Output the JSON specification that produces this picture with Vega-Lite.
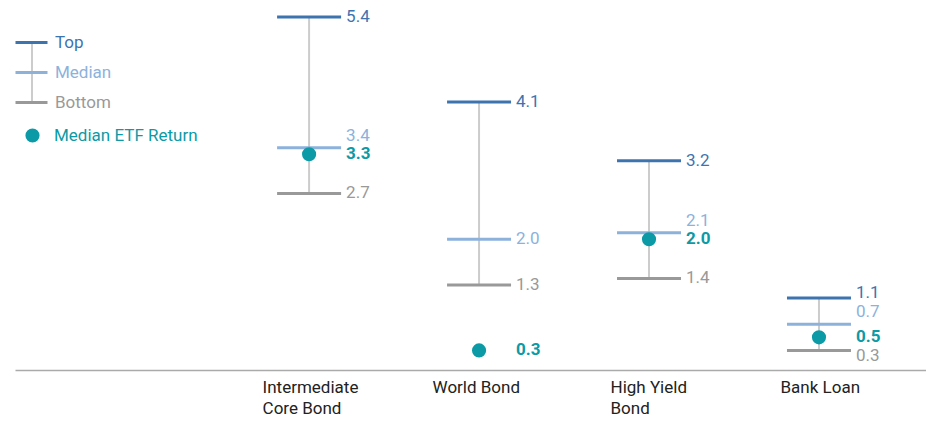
{
  "$schema": "https://vega.github.io/schema/vega-lite/v6.json",
  "width": 911,
  "height": 370,
  "autosize": {"type": "none"},
  "padding": {"left": 15, "top": 0, "right": 0, "bottom": 51},
  "background": "white",
  "config": {"view": {"stroke": null}, "font": "Roboto", "text": {"font": "Roboto"}},
  "data": {
    "values": [
      {"category": "Intermediate Core Bond", "Top": 5.4, "Median": 3.4, "Bottom": 2.7, "ETF": 3.3},
      {"category": "World Bond", "Top": 4.1, "Median": 2.0, "Bottom": 1.3, "ETF": 0.3},
      {"category": "High Yield Bond", "Top": 3.2, "Median": 2.1, "Bottom": 1.4, "ETF": 2.0},
      {"category": "Bank Loan", "Top": 1.1, "Median": 0.7, "Bottom": 0.3, "ETF": 0.5}
    ]
  },
  "encoding": {
    "x": {
      "field": "category",
      "type": "nominal",
      "scale": {"type": "point", "domain": ["", "Intermediate Core Bond", "World Bond", "High Yield Bond", "Bank Loan"], "padding": 0.68, "align": 0.537},
      "axis": {
        "title": null,
        "ticks": false,
        "domain": true,
        "domainColor": "#aaaaaa",
        "domainWidth": 1.5,
        "labelAngle": 0,
        "labelAlign": "left",
        "labelBaseline": "top",
        "labelOffset": {"condition": {"test": "datum.value == 'High Yield Bond' || datum.value == 'Bank Loan'", "value": -39}, "value": -47},
        "labelPadding": 9,
        "labelFont": "Roboto",
        "labelFontSize": 17,
        "labelColor": "#222222",
        "labelLineHeight": 21,
        "labelExpr": "datum.value == 'Intermediate Core Bond' ? ['Intermediate', 'Core Bond'] : datum.value == 'High Yield Bond' ? ['High Yield', 'Bond'] : datum.label"
      }
    }
  },
  "layer": [
    {
      "mark": {"type": "rule", "color": "#cccccc", "strokeWidth": 2},
      "encoding": {
        "y": {"field": "Bottom", "type": "quantitative", "scale": {"domain": [0, 5.66], "nice": false, "zero": true}, "axis": null},
        "y2": {"field": "Top"},
        "strokeDash": {
          "datum": "range",
          "scale": {"range": [[1, 0]]},
          "legend": {
            "title": null,
            "orient": "none",
            "legendX": 12,
            "legendY": 68,
            "padding": 0,
            "zindex": 0,
            "labelExpr": "''",
            "symbolType": "M0,-7.25V7.25",
            "symbolSize": 64,
            "symbolStrokeWidth": 2,
            "symbolStrokeColor": "#cccccc",
            "symbolOpacity": 1
          }
        }
      }
    },
    {
      "transform": [{"fold": ["Top", "Median", "Bottom"], "as": ["stat", "value"]}],
      "mark": {"type": "tick", "size": 64, "thickness": 3, "opacity": 1},
      "encoding": {
        "y": {"field": "value", "type": "quantitative"},
        "color": {
          "field": "stat",
          "type": "nominal",
          "scale": {
            "domain": ["Top", "Median", "Bottom"],
            "range": ["#3d74b0", "#8cb2dc", "#999999"]
          },
          "legend": {
            "title": null,
            "orient": "none",
            "legendX": 8,
            "legendY": 34,
            "padding": 0,
            "zindex": 2,
            "labelFont": "Roboto",
            "labelFontSize": 17,
            "labelOffset": 15,
            "rowPadding": 12,
            "symbolType": "M-4,-0.375H4V0.375H-4Z",
            "symbolSize": 64,
            "symbolStrokeWidth": 0,
            "symbolOpacity": 1,
            "labelColor": {"expr": "datum.value === 'Top' ? '#3d74b0' : datum.value === 'Median' ? '#8cb2dc' : '#999999'"}
          }
        }
      }
    },
    {
      "mark": {"type": "point", "filled": true, "size": 200, "opacity": 1, "color": "#0b9aa6"},
      "encoding": {
        "y": {"field": "ETF", "type": "quantitative"},
        "shape": {
          "datum": "Median ETF Return",
          "scale": {"range": ["circle"]},
          "legend": {
            "title": null,
            "orient": "none",
            "legendX": 9,
            "legendY": 127,
            "padding": 0,
            "labelFont": "Roboto",
            "labelFontSize": 17,
            "labelOffset": 13,
            "labelColor": "#0b9aa6",
            "symbolSize": 200,
            "symbolFillColor": "#0b9aa6",
            "symbolStrokeWidth": 0,
            "symbolOpacity": 1
          }
        }
      }
    },
    {
      "transform": [{"filter": "datum.Top - datum.Median >= 0.5"}],
      "mark": {"type": "text", "align": "left", "baseline": "middle", "dx": 37, "fontSize": 17, "color": "#3d74b0"},
      "encoding": {
        "y": {"field": "Top", "type": "quantitative"},
        "text": {"field": "Top", "type": "quantitative", "format": ".1f"}
      }
    },
    {
      "transform": [{"filter": "datum.Top - datum.Median < 0.5"}],
      "mark": {"type": "text", "align": "left", "baseline": "middle", "dx": 37, "dy": -5, "fontSize": 17, "color": "#3d74b0"},
      "encoding": {
        "y": {"field": "Top", "type": "quantitative"},
        "text": {"field": "Top", "type": "quantitative", "format": ".1f"}
      }
    },
    {
      "transform": [{"filter": "abs(datum.Median - datum.ETF) >= 0.5"}],
      "mark": {"type": "text", "align": "left", "baseline": "middle", "dx": 37, "fontSize": 17, "color": "#8cb2dc"},
      "encoding": {
        "y": {"field": "Median", "type": "quantitative"},
        "text": {"field": "Median", "type": "quantitative", "format": ".1f"}
      }
    },
    {
      "transform": [{"filter": "abs(datum.Median - datum.ETF) < 0.5"}],
      "mark": {"type": "text", "align": "left", "baseline": "middle", "dx": 37, "dy": -12, "fontSize": 17, "color": "#8cb2dc"},
      "encoding": {
        "y": {"field": "Median", "type": "quantitative"},
        "text": {"field": "Median", "type": "quantitative", "format": ".1f"}
      }
    },
    {
      "transform": [{"filter": "abs(datum.Bottom - datum.ETF) >= 0.3"}],
      "mark": {"type": "text", "align": "left", "baseline": "middle", "dx": 37, "fontSize": 17, "color": "#999999"},
      "encoding": {
        "y": {"field": "Bottom", "type": "quantitative"},
        "text": {"field": "Bottom", "type": "quantitative", "format": ".1f"}
      }
    },
    {
      "transform": [{"filter": "abs(datum.Bottom - datum.ETF) < 0.3"}],
      "mark": {"type": "text", "align": "left", "baseline": "middle", "dx": 37, "dy": 6, "fontSize": 17, "color": "#999999"},
      "encoding": {
        "y": {"field": "Bottom", "type": "quantitative"},
        "text": {"field": "Bottom", "type": "quantitative", "format": ".1f"}
      }
    },
    {
      "mark": {"type": "text", "align": "left", "baseline": "middle", "dx": 37, "fontSize": 17, "fontWeight": "bold", "color": "#0b9aa6"},
      "encoding": {
        "y": {"field": "ETF", "type": "quantitative"},
        "text": {"field": "ETF", "type": "quantitative", "format": ".1f"}
      }
    }
  ]
}
